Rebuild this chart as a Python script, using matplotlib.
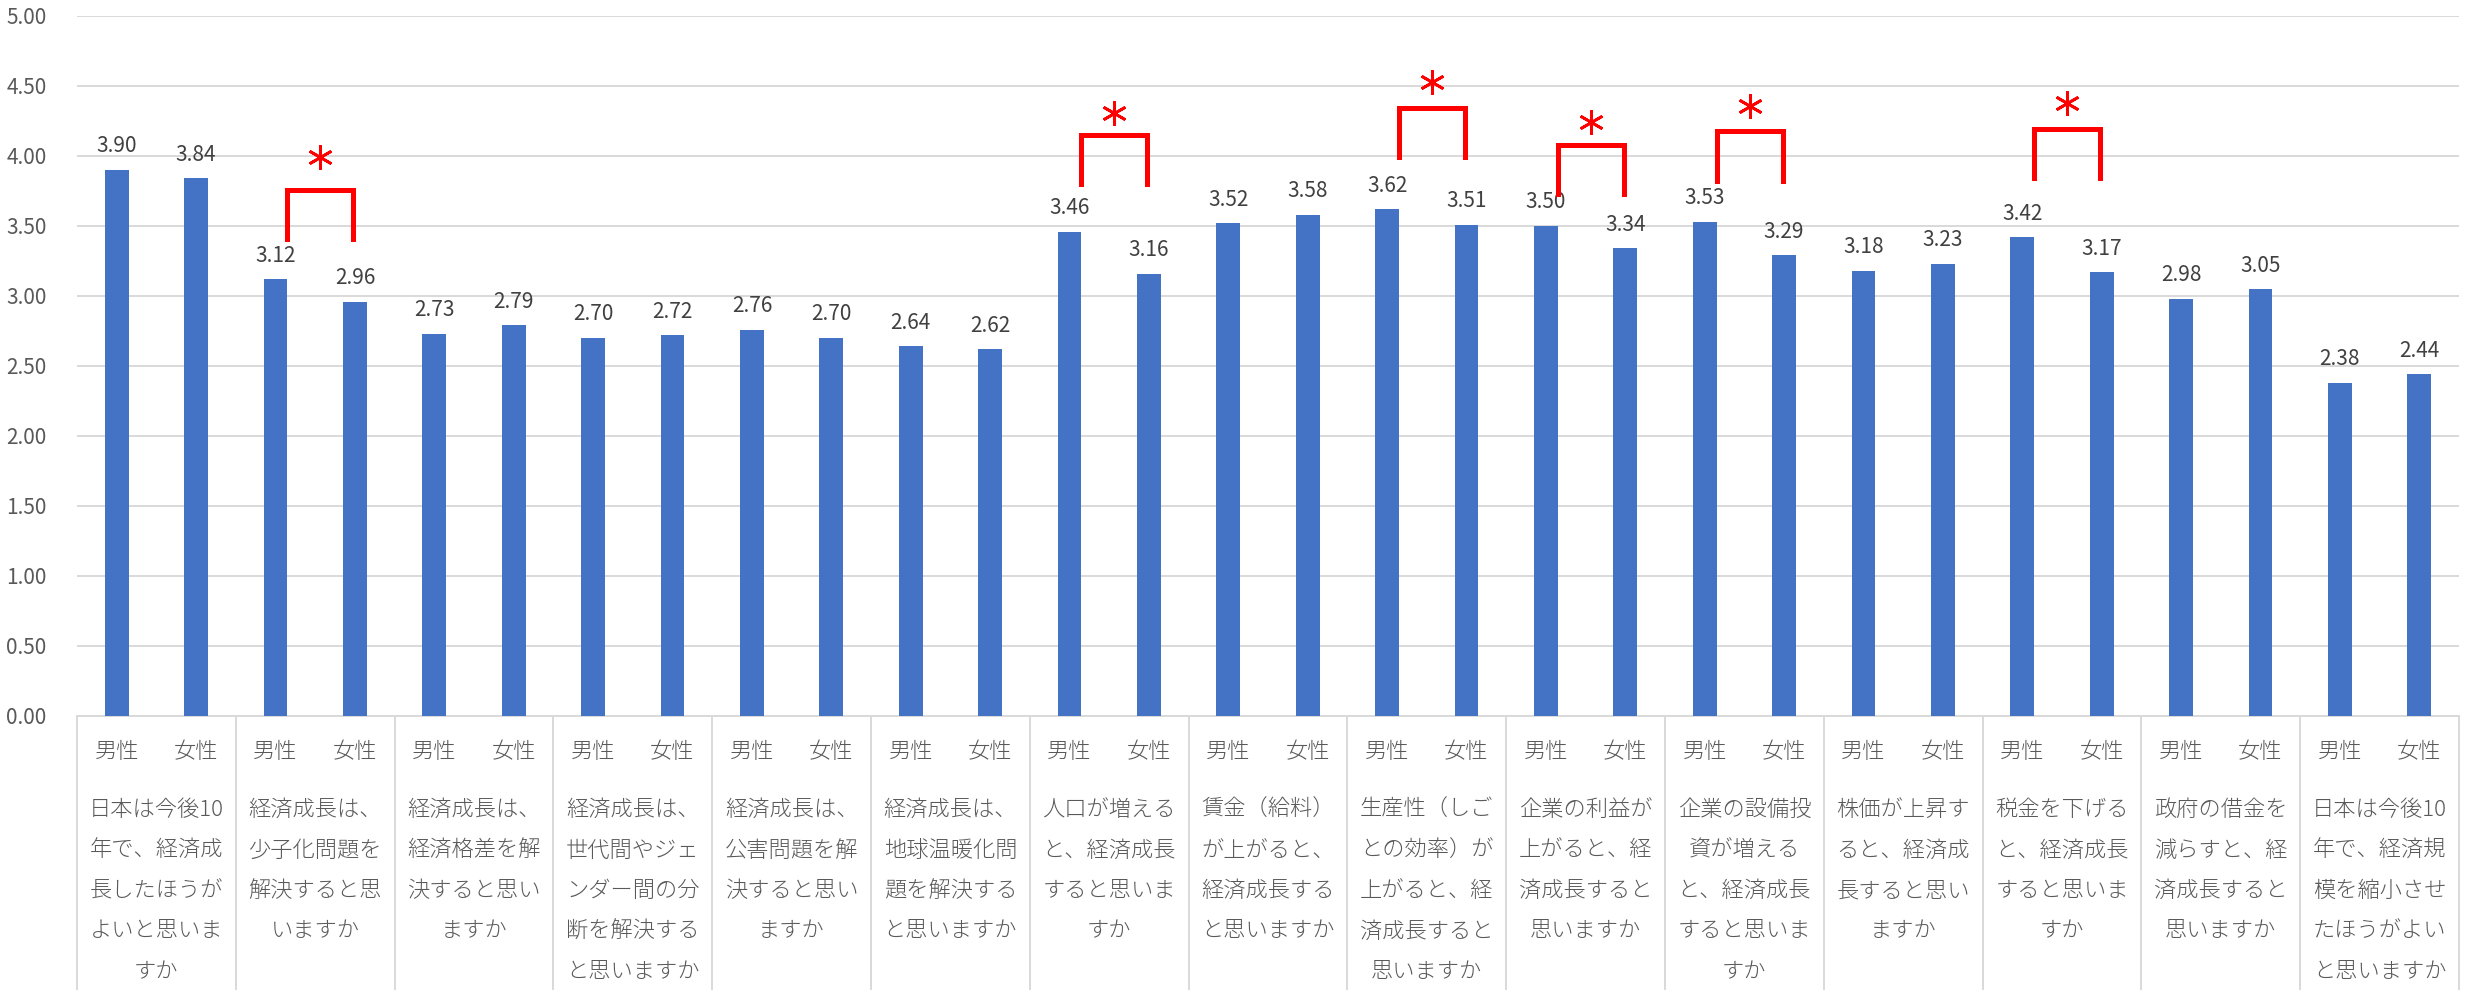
import matplotlib
matplotlib.use("Agg")
import matplotlib.pyplot as plt
import numpy as np

plt.rcParams['font.family'] = ['Noto Sans CJK JP', 'DejaVu Sans']
plt.rcParams['font.weight'] = 'light'

# data
questions = [
    "日本は今後10\n年で、経済成\n長したほうが\nよいと思いま\nすか",
    "経済成長は、\n少子化問題を\n解決すると思\nいますか",
    "経済成長は、\n経済格差を解\n決すると思い\nますか",
    "経済成長は、\n世代間やジェ\nンダー間の分\n断を解決する\nと思いますか",
    "経済成長は、\n公害問題を解\n決すると思い\nますか",
    "経済成長は、\n地球温暖化問\n題を解決する\nと思いますか",
    "人口が増える\nと、経済成長\nすると思いま\nすか",
    "賃金（給料）\nが上がると、\n経済成長する\nと思いますか",
    "生産性（しご\nとの効率）が\n上がると、経\n済成長すると\n思いますか",
    "企業の利益が\n上がると、経\n済成長すると\n思いますか",
    "企業の設備投\n資が増える\nと、経済成長\nすると思いま\nすか",
    "株価が上昇す\nると、経済成\n長すると思い\nますか",
    "税金を下げる\nと、経済成長\nすると思いま\nすか",
    "政府の借金を\n減らすと、経\n済成長すると\n思いますか",
    "日本は今後10\n年で、経済規\n模を縮小させ\nたほうがよい\nと思いますか",
]
sexes = ["男性", "女性"]
male = [3.90, 3.12, 2.73, 2.70, 2.76, 2.64, 3.46, 3.52, 3.62, 3.50, 3.53, 3.18, 3.42, 2.98, 2.38]
female = [3.84, 2.96, 2.79, 2.72, 2.70, 2.62, 3.16, 3.58, 3.51, 3.34, 3.29, 3.23, 3.17, 3.05, 2.44]

# significance brackets (group index, top, leg bottom, star)
sig_groups = [1, 6, 8, 9, 10, 12]
sig_top = [3.76, 4.15, 4.34, 4.08, 4.18, 4.19]
sig_bottom = [3.41, 3.80, 3.99, 3.73, 3.82, 3.84]
sig_star = [3.99, 4.31, 4.53, 4.24, 4.36, 4.38]

BLUE = "#4472C4"
GRID = "#D9D9D9"
TXT = "#595959"
W, H = 2465, 990


def main():
    fig = plt.figure(figsize=(W / 100, H / 100), dpi=100)
    ax = fig.add_axes([77 / W, 1 - 716 / H, (2459 - 77) / W, 700 / H])

    n = len(questions)
    vals = []
    for m, f in zip(male, female):
        vals += [m, f]
    xs = np.arange(2 * n)
    ax.bar(xs, vals, width=0.30, color=BLUE, zorder=3)
    for x, v in zip(xs, vals):
        ax.annotate("%.2f" % v, xy=(x, v), xytext=(0, 9), textcoords="offset points",
                    ha="center", va="bottom", fontsize=15, color="#404040",
                    fontweight="normal")

    ax.set_xlim(-0.5, 2 * n - 0.5)
    ax.set_ylim(0, 5)
    ax.set_yticks(np.arange(0, 5.01, 0.5))
    ax.set_yticklabels(["%.2f" % t for t in np.arange(0, 5.01, 0.5)],
                       fontweight="normal")
    ax.tick_params(axis="y", length=0, pad=22, labelsize=15, labelcolor=TXT)
    ax.set_xticks([])
    ax.yaxis.grid(True, color=GRID, linewidth=1.4, zorder=0)
    for s in ["top", "right", "left"]:
        ax.spines[s].set_visible(False)
    ax.spines["bottom"].set_color(GRID)
    ax.spines["bottom"].set_linewidth(1.4)

    # multi-level category axis
    px = 700.0  # axes height in pixels
    trans = ax.get_xaxis_transform()
    for k in range(n + 1):
        ax.plot([2 * k - 0.5, 2 * k - 0.5], [0, -(H - 716) / px], color=GRID,
                linewidth=1.4, transform=trans, clip_on=False)
    for x in xs:
        ax.text(x, -(752 - 716) / px, sexes[x % 2], transform=trans, ha="center",
                va="center", fontsize=16, color=TXT)
    for g, q in enumerate(questions):
        for i, line in enumerate(q.split("\n")):
            y = 810 + i * 40.5
            ax.text(2 * g + 0.5, -(y - 716) / px, line, transform=trans, ha="center",
                    va="center", fontsize=16, color=TXT)

    # significance marks
    for g, top, bot, star in zip(sig_groups, sig_top, sig_bottom, sig_star):
        x0 = 2 * g + 0.15
        x1 = 2 * g + 1 - 0.02
        ax.plot([x0, x0, x1, x1], [bot, top, top, bot], color="red", linewidth=3.6,
                solid_joinstyle="miter", zorder=4)
        ax.plot([(x0 + x1) / 2], [star], marker=(6, 2, 0), markersize=18,
                markeredgewidth=2.0, color="red", zorder=4)

    fig.savefig("out.png", dpi=100)


if __name__ == '__main__':
    main()
